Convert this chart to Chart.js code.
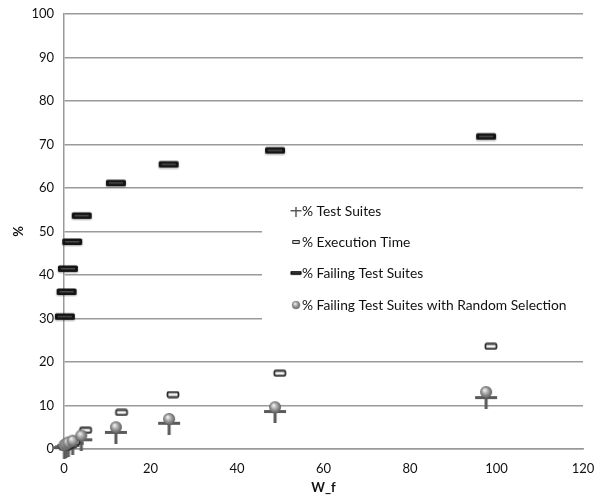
<!DOCTYPE html>
<html>
<head>
<meta charset="utf-8">
<script src="https://cdn.jsdelivr.net/npm/chart.js@4"></script>
<style>
  html, body { margin: 0; padding: 0; background: #fff; }
  #wrap { width: 605px; height: 500px; }
</style>
</head>
<body>
<div id="wrap"><canvas id="chart"></canvas></div>
<script>
// values
const suitesX  = [0.1, 0.5, 1, 2, 4, 12, 24.3, 48.8, 97.6];
const suitesY  = [0.2, 0.4, 0.7, 1.2, 2.0, 3.7, 5.8, 8.5, 11.7];
const randomY  = [0.9, 1.2, 1.5, 1.9, 3.1, 5.0, 6.9, 9.6, 13.1];
const execX    = [0.3, 0.7, 1.2, 2.3, 5.0, 13.3, 25.2, 49.9, 98.7];
const execY    = [0.4, 0.7, 1.0, 1.6, 4.3, 8.4, 12.5, 17.4, 23.6];
const failX    = [0.2, 0.6, 0.9, 1.9, 4.1, 12, 24.2, 48.8, 97.6];
const failY    = [30.4, 36.1, 41.4, 47.6, 53.6, 61.1, 65.4, 68.6, 71.8];
const seriesNames = ['% Test Suites', '% Execution Time', '% Failing Test Suites', '% Failing Test Suites with Random Selection'];

const pts = (xs, ys) => xs.map((x, i) => ({ x: x, y: ys[i] }));
const FONT = 'Lato, "Open Sans", sans-serif';

function makeCanvas(w, h, draw) {
  const c = document.createElement('canvas');
  c.width = w; c.height = h;
  draw(c.getContext('2d'));
  return c;
}
function roundRect(ctx, x, y, w, h, r) {
  ctx.beginPath();
  ctx.moveTo(x + r, y);
  ctx.arcTo(x + w, y, x + w, y + h, r);
  ctx.arcTo(x + w, y + h, x, y + h, r);
  ctx.arcTo(x, y + h, x, y, r);
  ctx.arcTo(x, y, x + w, y, r);
  ctx.closePath();
}

const crossImg = makeCanvas(24, 22, ctx => {
  ctx.fillStyle = '#5a5a5a';
  ctx.fillRect(1, 9, 22, 3);
  ctx.fillRect(10.5, 3, 3, 19);
});
const execImg = makeCanvas(16, 8, ctx => {
  roundRect(ctx, 2.5, 1.5, 11, 5, 1.2);
  ctx.fillStyle = '#f4f4f4';
  ctx.fill();
  ctx.lineWidth = 1.8;
  ctx.strokeStyle = '#2a2a2a';
  ctx.stroke();
});
const failImg = makeCanvas(24, 10, ctx => {
  ctx.shadowColor = 'rgba(0,0,0,0.35)';
  ctx.shadowBlur = 2;
  ctx.shadowOffsetY = 1;
  roundRect(ctx, 2, 1.5, 20, 6.5, 1.5);
  ctx.fillStyle = '#151515';
  ctx.fill();
  ctx.shadowColor = 'transparent';
  ctx.fillStyle = '#4a4a4a';
  ctx.fillRect(5, 4, 14, 1.5);
});
const sphereImg = makeCanvas(14, 14, ctx => {
  const g = ctx.createRadialGradient(5.5, 5, 0.5, 7, 7, 6.5);
  g.addColorStop(0, '#eeeeee');
  g.addColorStop(0.5, '#9a9a9a');
  g.addColorStop(1, '#555555');
  ctx.beginPath();
  ctx.arc(7, 7, 6, 0, Math.PI * 2);
  ctx.fillStyle = g;
  ctx.fill();
});
const markerImgs = [crossImg, execImg, failImg, sphereImg];
const legendScale = [0.5, 0.6, 0.55, 0.7];

// legend placed inside the plot, on a white box that hides the grid lines
const insideLegend = {
  id: 'insideLegend',
  afterDatasetsDraw(chart) {
    const ctx = chart.ctx;
    const area = chart.chartArea;
    ctx.save();
    ctx.fillStyle = '#fff';
    ctx.fillRect(262, 196, area.right - 262, 126);
    ctx.font = '13.8px ' + FONT;
    ctx.fillStyle = '#111';
    ctx.textBaseline = 'middle';
    const rows = [211, 242, 273, 305];
    seriesNames.forEach((name, i) => {
      const img = markerImgs[i];
      const s = legendScale[i];
      const w = img.width * s, h = img.height * s;
      ctx.drawImage(img, 296 - w / 2, rows[i] - h / 2, w, h);
      ctx.fillText(name, 302, rows[i] + 1);
    });
    ctx.restore();
  }
};

const mk = (label, data, img, order) => ({
  label: label,
  data: data,
  pointStyle: img,
  pointRadius: 6,
  pointHoverRadius: 6,
  showLine: false,
  clip: false,
  order: order
});

new Chart(document.getElementById('chart'), {
  type: 'scatter',
  data: {
    datasets: [
      mk(seriesNames[0], pts(suitesX, suitesY), crossImg, 4),
      mk(seriesNames[1], pts(execX, execY), execImg, 3),
      mk(seriesNames[2], pts(failX, failY), failImg, 2),
      mk(seriesNames[3], pts(suitesX, randomY), sphereImg, 1)
    ]
  },
  options: {
    responsive: true,
    maintainAspectRatio: false,
    animation: false,
    layout: { padding: { top: 0, right: 22, left: 7, bottom: 0 } },
    plugins: {
      legend: { display: false },
      tooltip: { enabled: false }
    },
    scales: {
      x: {
        type: 'linear',
        min: 0, max: 120,
        ticks: { stepSize: 20, color: '#111', font: { size: 13, family: FONT }, padding: 4 },
        grid: { display: false },
        border: { color: '#999', width: 1.5 },
        title: { display: true, text: 'W_f', color: '#111', font: { size: 13, weight: 'bold', family: FONT }, padding: { top: 2 } },
        afterFit(scale) { scale.height = 51; }
      },
      y: {
        min: 0, max: 100,
        ticks: { stepSize: 10, color: '#111', font: { size: 13, family: FONT }, padding: 10 },
        grid: { color: '#9a9a9a', lineWidth: 1.5, drawTicks: false },
        border: { color: '#999', width: 1.5 },
        title: { display: true, text: '%', color: '#111', font: { size: 13, weight: 'bold', family: FONT } },
        afterFit(scale) { scale.width = 57; scale.paddingTop = 14; }
      }
    }
  },
  plugins: [insideLegend]
});
</script>
</body>
</html>
